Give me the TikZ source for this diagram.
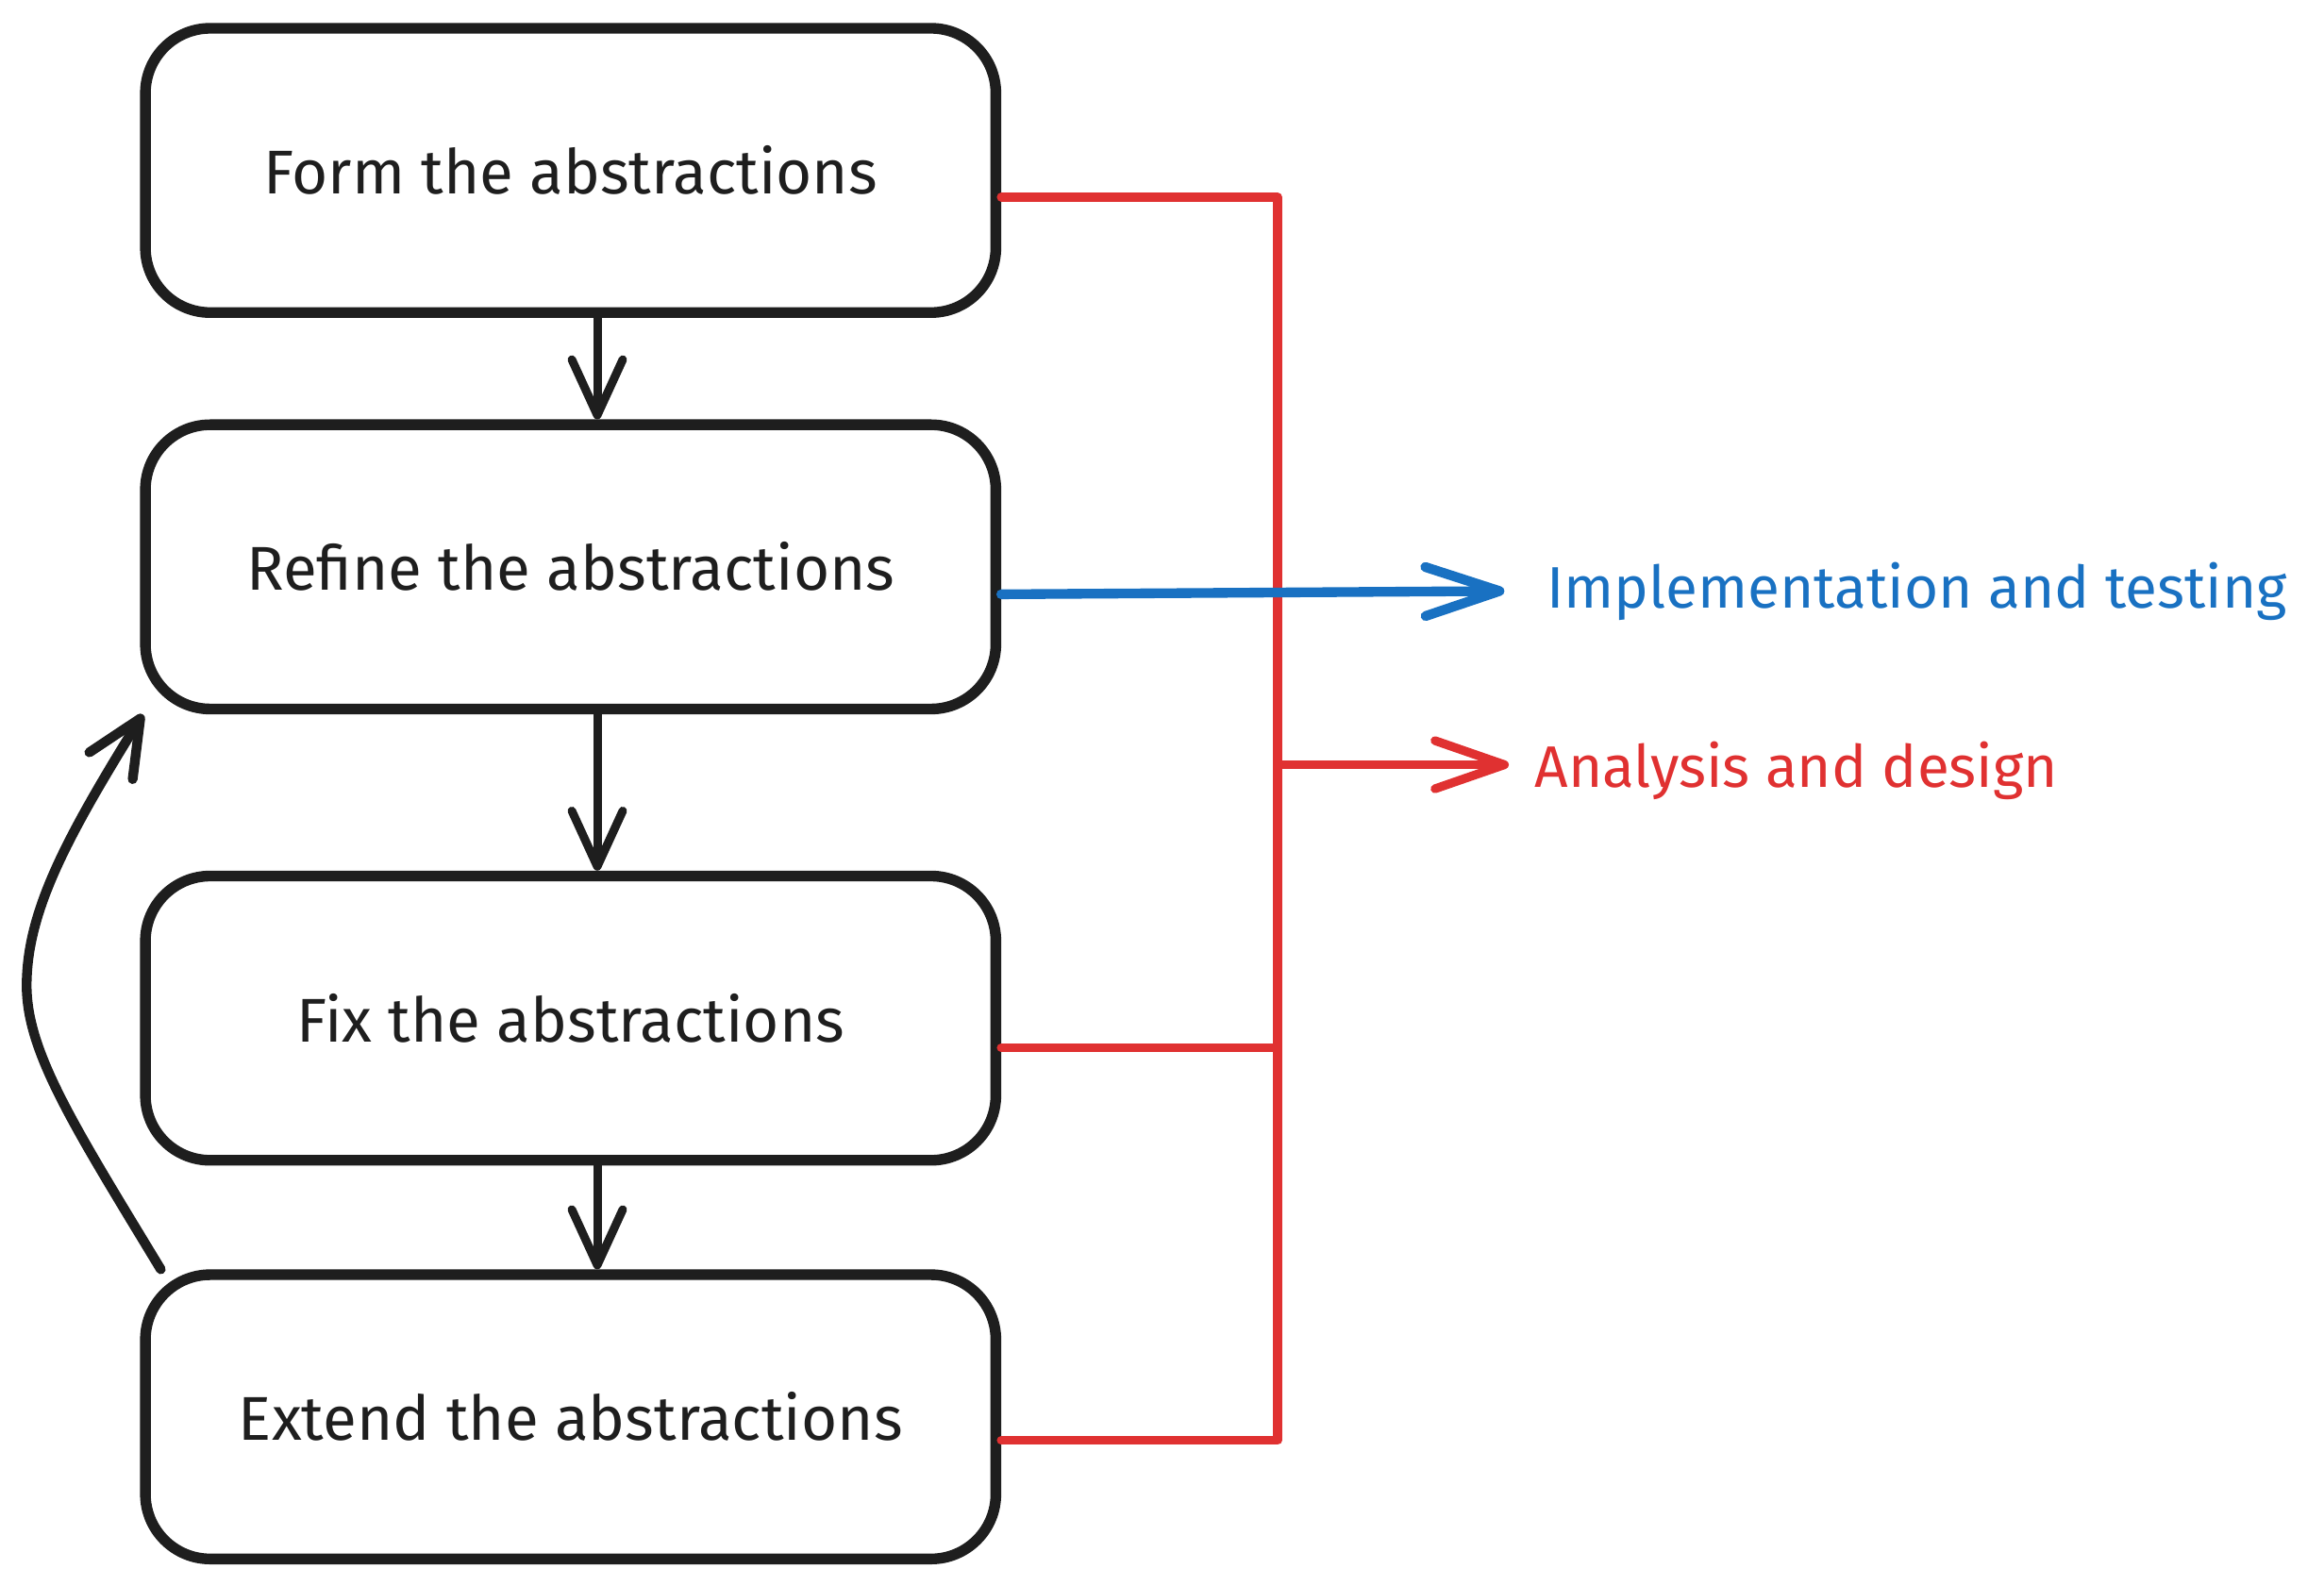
\documentclass[tikz,border=0pt]{standalone}
\usepackage{fontspec}
\setmainfont{Fira Sans}
\usetikzlibrary{arrows.meta,calc}
\definecolor{ink}{HTML}{1E1E1E}
\definecolor{exred}{HTML}{E03131}
\definecolor{exblue}{HTML}{1971C2}
\begin{document}
\begin{tikzpicture}[x=0.016cm,y=-0.016cm,
  box/.style={draw=ink, line width=3.3pt, rounded corners=0.7cm,
    minimum width=9.184cm, minimum height=3.07cm, inner sep=0pt,
    text=ink, font=\fontsize{19}{23}\selectfont},
  lab/.style={inner sep=0pt, font=\fontsize{18}{22}\selectfont},
  flow/.style={draw=ink, line width=2.6pt, line cap=round,
    -{Straight Barb[length=0.6cm,width=0.55cm,round]}},
  redline/.style={draw=exred, line width=2.7pt, line cap=round, line join=round},
  redarr/.style={redline, -{Straight Barb[length=0.75cm,width=0.52cm,round]}},
  bluearr/.style={draw=exblue, line width=3pt, line cap=round,
    -{Straight Barb[length=0.8cm,width=0.53cm,round]}}]
\useasboundingbox (0,0) rectangle (1568,1070);

\node[box] (b1) at (385,115) {Form the abstractions};
\node[box] (b2) at (385,382.5) {Refine the abstractions};
\node[box] (b3) at (385,687) {Fix the abstractions};
\node[box] (b4) at (385,956) {Extend the abstractions};

\node[lab, text=exblue, anchor=base west] (it) at (1043,410) {Implementation and testing};
\node[lab, text=exred, anchor=base west] (ad) at (1035,531) {Analysis and design};

\coordinate (j1) at (862,133);
\coordinate (j2) at (862,516);
\coordinate (j3) at (862,707);
\coordinate (j4) at (862,972);

% flow arrows
\draw[flow] ([xshift=0.288cm]b1.south) -- ([xshift=0.288cm]b2.north);
\draw[flow] ([xshift=0.288cm]b2.south) -- ([xshift=0.288cm]b3.north);
\draw[flow] ([xshift=0.288cm]b3.south) -- ([xshift=0.288cm]b4.north);

% loop back
\draw[flow, line width=3pt] ([xshift=0.224cm]b4.north west) .. controls (50,760) and (18,710) .. (18,665)
  .. controls (18,615) and (45,565) .. ([xshift=0.03cm]b2.south west);

% red bracket
\draw[redline] (j1 -| b1.east) -- (j1) -- (j4) -- (j4 -| b4.east);
\draw[redline] (j3 -| b3.east) -- (j3);
\draw[redarr] (j2) -- ($(j2 -| ad.west)+(-17,0)$);

% blue arrow
\draw[bluearr] ([yshift=-0.296cm]b2.east) -- ($(it.west)+(-28,0)$);
\end{tikzpicture}
\end{document}
